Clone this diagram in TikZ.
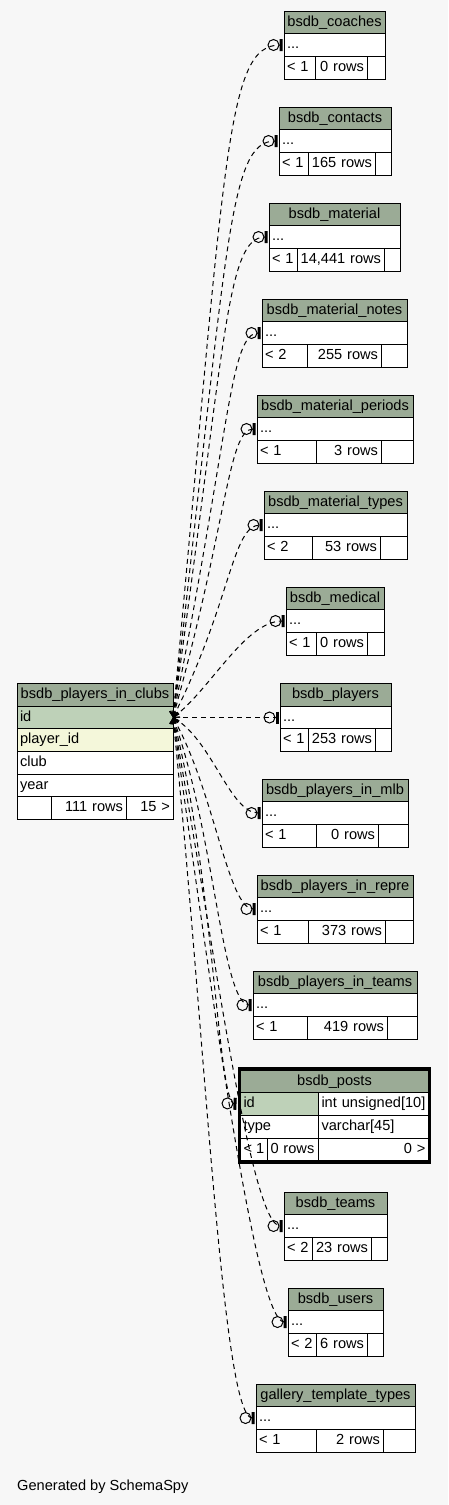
\documentclass[tikz,border=0pt]{standalone}
\usepackage{fontspec}
\setmainfont{Liberation Sans}
\usepackage{tikz}
\usetikzlibrary{arrows.meta}

\definecolor{bgcol}{HTML}{F7F7F7}
\definecolor{headcol}{HTML}{9BAB96}
\definecolor{pkcol}{HTML}{BED1B8}
\definecolor{ixcol}{HTML}{F4F7DA}

% name, left, top, widths of the three footer cells, title, lower, rows
\newcommand{\reltable}[9]{%
  \node[tblhead, minimum width=#4+#5+#6] (#1) at (#2,-#3) {#7};
  \node[cell, text width=#4+#5+#6-6] (#1-row) at (#1.south west) {...};
  \node[cell, text width=#4-6] (#1-lo) at (#1-row.south west) {#8};
  \node[cell, text width=#5-6, align=right] (#1-rows) at (#1-lo.north east) {#9};
  \node[cell, minimum width=#6] (#1-hi) at (#1-rows.north east) {};
}

\begin{document}
\begin{tikzpicture}[x=1pt, y=1pt, font=\fontsize{14.6}{17}\selectfont,
    cell/.style={draw, fill=white, line width=1pt, outer sep=0pt, inner xsep=3pt, inner ysep=0pt,
      minimum height=22.67pt, text height=10.5pt, text depth=3pt, align=left, anchor=north west},
    tblhead/.style={cell, fill=headcol, align=center},
    rel/.style={line width=1pt, dash pattern=on 5pt off 4pt, shorten >=1.5pt,
      {Straight Barb[length=5pt,width=8pt]}-{Circle[open,length=12pt,width=12pt]Bar[width=12pt,line width=3pt]}}]
    \fill[bgcol] (0,0) rectangle (448,-1505);

    % the table with all the links
    \node[tblhead, minimum width=156] (clubs) at (17,-683.5) {bsdb\_players\_in\_clubs};
    \node[cell, fill=pkcol, text width=150] (clubs-id) at (clubs.south west) {id};
    \node[cell, fill=ixcol, text width=150] (clubs-player) at (clubs-id.south west) {player\_id};
    \node[cell, text width=150] (clubs-club) at (clubs-player.south west) {club};
    \node[cell, text width=150] (clubs-year) at (clubs-club.south west) {year};
    \node[cell, minimum width=34] (clubs-lo) at (clubs-year.south west) {};
    \node[cell, text width=69, align=right] (clubs-rows) at (clubs-lo.north east) {111 rows};
    \node[cell, text width=41, align=right] (clubs-hi) at (clubs-rows.north east) {15 >};

    \reltable{coaches}{284}{11}{31}{52}{18}{bsdb\_coaches}{< 1}{0 rows}
    \reltable{contacts}{279}{107}{29}{67}{16}{bsdb\_contacts}{< 1}{165 rows}
    \reltable{material}{269}{203}{28}{87}{16}{bsdb\_material}{< 1}{14,441 rows}
    \reltable{notes}{262}{299}{45}{74}{26}{bsdb\_material\_notes}{< 2}{255 rows}
    \reltable{periods}{257}{395}{59}{65}{32}{bsdb\_material\_periods}{< 1}{3 rows}
    \reltable{types}{264}{491}{48}{68}{27}{bsdb\_material\_types}{< 2}{53 rows}
    \reltable{medical}{286}{587}{30}{51}{17}{bsdb\_medical}{< 1}{0 rows}
    \reltable{players}{280}{683.5}{28}{67}{16}{bsdb\_players}{< 1}{253 rows}
    \reltable{mlb}{262}{779}{54}{62}{30}{bsdb\_players\_in\_mlb}{< 1}{0 rows}
    \reltable{repre}{257}{875}{51}{77}{28}{bsdb\_players\_in\_repre}{< 1}{373 rows}
    \reltable{pteams}{253}{971}{54}{80}{30}{bsdb\_players\_in\_teams}{< 1}{419 rows}
    \reltable{teams}{284}{1192}{28}{59}{16}{bsdb\_teams}{< 2}{23 rows}
    \reltable{users}{288}{1288}{28}{51}{16}{bsdb\_users}{< 2}{6 rows}
    \reltable{gallery}{256}{1384}{60}{67}{32}{gallery\_template\_types}{< 1}{2 rows}

    % posts has its columns shown
    \node[tblhead, minimum width=188] (posts) at (240.5,-1070) {bsdb\_posts};
    \node[cell, fill=pkcol, text width=72] (posts-id) at (posts.south west) {id};
    \node[cell, text width=104] (posts-idtype) at (posts-id.north east) {int unsigned[10]};
    \node[cell, text width=72] (posts-type) at (posts-id.south west) {type};
    \node[cell, text width=104] (posts-typetype) at (posts-type.north east) {varchar[45]};
    \node[cell, inner xsep=0pt, minimum width=27] (posts-lo) at (posts-type.south west) {< 1};
    \node[cell, text width=45] (posts-rows) at (posts-lo.north east) {0 rows};
    \node[cell, text width=104, align=right] (posts-hi) at (posts-rows.north east) {0 >};
    \draw[line width=3pt] ([shift={(-1.5,1.5)}]posts.north west) rectangle ([shift={(1,-1.5)}]posts-hi.south east);

    % implied links
    \draw[rel] (clubs-id.east) .. controls (226,-150) and (226,-45) .. (coaches-row.west);
    \draw[rel] (clubs-id.east) .. controls (228,-245) and (228,-141) .. (contacts-row.west);
    \draw[rel] (clubs-id.east) .. controls (226,-340) and (226,-237) .. (material-row.west);
    \draw[rel] (clubs-id.east) .. controls (230,-430) and (230,-333) .. (notes-row.west);
    \draw[rel] (clubs-id.east) .. controls (228,-520) and (228,-429) .. (periods-row.west);
    \draw[rel] (clubs-id.east) .. controls (232,-600) and (232,-525) .. (types-row.west);
    \draw[rel] (clubs-id.east) .. controls (210,-690) and (245,-621) .. (medical-row.west);
    \draw[rel] (clubs-id.east) -- (players-row.west);
    \draw[rel] (clubs-id.east) .. controls (212,-740) and (230,-813) .. (mlb-row.west);
    \draw[rel] (clubs-id.east) .. controls (214,-790) and (228,-909) .. (repre-row.west);
    \draw[rel] (clubs-id.east) .. controls (214,-830) and (222,-1005) .. (pteams-row.west);
    \draw[rel, shorten >=4pt] (clubs-id.east) .. controls (213,-870) and (218,-1103) .. (posts-id.west);
    \draw[rel] (clubs-id.east) .. controls (212,-930) and (250,-1226) .. (teams-row.west);
    \draw[rel] (clubs-id.east) .. controls (210,-980) and (255,-1322) .. (users-row.west);
    \draw[rel] (clubs-id.east) .. controls (205,-1030) and (222,-1418) .. (gallery-row.west);

    \node[anchor=west, inner sep=0pt] (credit) at (17,-1487) {Generated by SchemaSpy};
\end{tikzpicture}
\end{document}
